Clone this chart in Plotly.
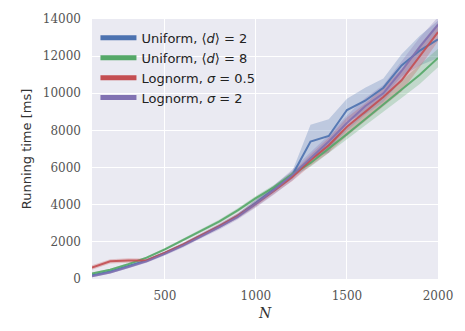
import plotly.graph_objects as go

# Problem sizes
N = [100, 200, 300, 400, 500, 600, 700, 800, 900, 1000,
     1100, 1200, 1300, 1400, 1500, 1600, 1700, 1800, 1900, 2000]

# Mean running times [ms]
uniform_d2 = [200, 400, 700, 1000, 1400, 1850, 2350, 2850, 3400, 4100,
              4850, 5600, 7400, 7700, 9100, 9600, 10300, 11500, 12300, 12900]
uniform_d8 = [300, 500, 800, 1150, 1600, 2100, 2600, 3100, 3700, 4350,
              4950, 5650, 6250, 7000, 7800, 8600, 9400, 10200, 11000, 11900]
lognorm_05 = [620, 950, 1000, 1000, 1400, 1850, 2350, 2850, 3400, 4050,
              4750, 5500, 6400, 7200, 8200, 9000, 9800, 10700, 12000, 13300]
lognorm_2 = [150, 350, 650, 950, 1350, 1800, 2300, 2800, 3350, 4050,
             4800, 5600, 6500, 7400, 8400, 9300, 10000, 11200, 12500, 13700]

# Spread (half width of the shaded band) [ms]
spread_d2 = [60, 60, 60, 70, 80, 90, 100, 110, 130, 150,
             180, 200, 900, 900, 600, 700, 500, 600, 800, 1000]
spread_d8 = [50, 50, 60, 60, 70, 80, 90, 100, 110, 120,
             130, 150, 200, 250, 300, 350, 400, 450, 500, 500]
spread_05 = [120, 120, 120, 100, 90, 100, 110, 120, 140, 160,
             180, 220, 300, 400, 500, 450, 500, 600, 600, 500]
spread_2 = [60, 60, 70, 80, 90, 100, 110, 130, 150, 200,
            250, 300, 300, 350, 400, 450, 450, 500, 500, 400]

x_ticks = [500, 1000, 1500, 2000]
y_ticks = [0, 2000, 4000, 6000, 8000, 10000, 12000, 14000]

labels = ["Uniform, ⟨<i>d</i>⟩ = 2", "Uniform, ⟨<i>d</i>⟩ = 8",
          "Lognorm, <i>σ</i> = 0.5", "Lognorm, <i>σ</i> = 2"]
colors = ["#4C72B0", "#55A868", "#C44E52", "#8172B2"]
fills = ["rgba(76,114,176,0.28)", "rgba(85,168,104,0.28)",
         "rgba(196,78,82,0.28)", "rgba(129,114,178,0.28)"]
series = [uniform_d2, uniform_d8, lognorm_05, lognorm_2]
spreads = [spread_d2, spread_d8, spread_05, spread_2]

fig = go.Figure()

for ys, sp, col, fc in zip(series, spreads, colors, fills):
    upper = [y + s for y, s in zip(ys, sp)]
    lower = [y - s for y, s in zip(ys, sp)]
    fig.add_trace(go.Scatter(x=N + N[::-1], y=upper + lower[::-1],
                             fill="toself", fillcolor=fc, mode="lines",
                             line=dict(width=0), hoverinfo="skip",
                             showlegend=False))

for ys, col in zip(series, colors):
    fig.add_trace(go.Scatter(x=N, y=ys, mode="lines",
                             line=dict(color=col, width=2),
                             opacity=0.9, showlegend=False))

# Legend entries with thicker strokes
for lab, col in zip(labels, colors):
    fig.add_trace(go.Scatter(x=[None], y=[None], mode="lines", name=lab,
                             line=dict(color=col, width=5)))

fig.update_layout(
    width=465, height=331,
    margin=dict(l=92, r=25, t=16, b=46),
    paper_bgcolor="white",
    plot_bgcolor="#EAEAF2",
    font=dict(family="DejaVu Sans", size=13, color="#333333"),
    legend=dict(x=0.01, y=0.985, xanchor="left", yanchor="top",
                bgcolor="rgba(0,0,0,0)", borderwidth=0,
                font=dict(family="DejaVu Sans", size=13, color="#222222"),
                itemwidth=36, tracegroupgap=0),
    xaxis=dict(range=[100, 2000], tickvals=x_ticks,
               ticktext=[str(v) for v in x_ticks],
               showgrid=True, gridcolor="white", gridwidth=1.2,
               zeroline=False, showline=False, ticks="",
               ticklabelstandoff=8,
               tickfont=dict(family="DejaVu Serif", size=12, color="#555555"),
               title=dict(text="<i>N</i>", standoff=6,
                          font=dict(family="DejaVu Serif", size=14, color="#333333"))),
    yaxis=dict(range=[0, 14000], tickvals=y_ticks,
               ticktext=[str(v) for v in y_ticks],
               showgrid=True, gridcolor="white", gridwidth=1.2,
               zeroline=False, showline=False, ticks="",
               ticklabelstandoff=10,
               tickfont=dict(family="DejaVu Serif", size=12, color="#555555"),
               title=dict(text="Running time [ms]", standoff=8,
                          font=dict(family="DejaVu Sans", size=13, color="#333333"))),
)

fig.write_html("out.html")
